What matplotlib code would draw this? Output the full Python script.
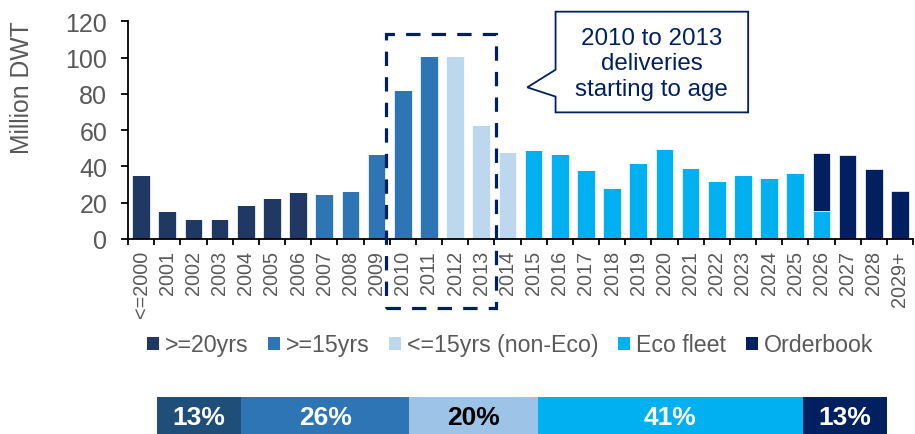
import numpy as np
import matplotlib
matplotlib.use("Agg")
import matplotlib.pyplot as plt
from matplotlib.patches import Patch, Polygon, Rectangle

plt.rcParams['font.family'] = ['Liberation Sans', 'DejaVu Sans']

# Fleet by delivery year (million DWT)
years = ["<=2000", "2001", "2002", "2003", "2004", "2005", "2006", "2007", "2008", "2009",
         "2010", "2011", "2012", "2013", "2014", "2015", "2016", "2017", "2018", "2019",
         "2020", "2021", "2022", "2023", "2024", "2025", "2026", "2027", "2028", "2029+"]
over20 = [35.1, 15.3, 10.8, 10.8, 18.8, 22.6, 25.7, 0, 0, 0,
          0, 0, 0, 0, 0, 0, 0, 0, 0, 0,
          0, 0, 0, 0, 0, 0, 0, 0, 0, 0]
over15 = [0, 0, 0, 0, 0, 0, 0, 25.0, 26.3, 46.9,
          82.2, 100.7, 0, 0, 0, 0, 0, 0, 0, 0,
          0, 0, 0, 0, 0, 0, 0, 0, 0, 0]
under15 = [0, 0, 0, 0, 0, 0, 0, 0, 0, 0,
           0, 0, 100.7, 63.0, 48.0, 0, 0, 0, 0, 0,
           0, 0, 0, 0, 0, 0, 0, 0, 0, 0]
eco = [0, 0, 0, 0, 0, 0, 0, 0, 0, 0,
       0, 0, 0, 0, 0, 49.1, 46.7, 38.2, 28.3, 41.9,
       49.4, 39.0, 31.8, 35.3, 33.6, 36.2, 15.3, 0, 0, 0]
orderbook = [0, 0, 0, 0, 0, 0, 0, 0, 0, 0,
             0, 0, 0, 0, 0, 0, 0, 0, 0, 0,
             0, 0, 0, 0, 0, 0, 31.9, 46.1, 38.4, 26.3]

series_names = [">=20yrs", ">=15yrs", "<=15yrs (non-Eco)", "Eco fleet", "Orderbook"]
series_colors = ["#203864", "#2E75B6", "#BDD7EE", "#00B0F0", "#002060"]

# Share of fleet (%)
share_pct = [13, 26, 20, 41, 13]
share_colors = ["#1F4E79", "#2E75B6", "#9DC3E6", "#00B0F0", "#002060"]
share_text = ["white", "white", "black", "white", "white"]

gray = "#595959"
navy = "#002060"

fig = plt.figure(figsize=(9.15, 4.35), dpi=100)
ax = fig.add_axes([128 / 915, 1 - 240 / 435, 785 / 915, 217.7 / 435])

x = np.arange(len(years))
bottom = np.zeros(len(years))
for vals, col in zip([over20, over15, under15, eco, orderbook], series_colors):
    vals = np.array(vals)
    ax.bar(x, vals, 0.68, bottom=bottom, color=col, edgecolor="white", linewidth=0.5, zorder=2)
    bottom += vals

ax.set_xlim(-0.5, len(years) - 0.5)
ax.set_ylim(0, 120)
ax.set_yticks(range(0, 121, 20))
ax.set_xticks(x)
ax.set_xticklabels(years, rotation=90, fontsize=14.3, color=gray)
ax.set_xticks(np.arange(-0.5, len(years), 1), minor=True)
ax.tick_params(axis="x", which="major", length=0, pad=8)
ax.tick_params(axis="x", which="minor", length=4, width=1.3, color="black")
ax.tick_params(axis="y", length=5, width=1.3, pad=10, labelsize=18, labelcolor=gray)
for s in ["top", "right"]:
    ax.spines[s].set_visible(False)
for s in ["left", "bottom"]:
    ax.spines[s].set_linewidth(1.3)

fig.text(22 / 915, 1 - 88 / 435, "Million DWT", rotation=90, ha="center", va="center",
         fontsize=17.8, color=gray)

# dashed frame around the 2010-2013 vintages
i0, i1 = years.index("2010"), years.index("2013")
frame = Rectangle((i0 - 0.65, -38), (i1 - i0) + 1.21, 151, fill=False, edgecolor=navy,
                  linewidth=2.3, linestyle=(0, (4.5, 3.5)), clip_on=False, zorder=5)
ax.add_patch(frame)

# callout box
bl, br, bt, bb = 15.84, 23.2, 125.3, 69.8
callout = Polygon([(bl, bb), (bl, 78.5), (14.76, 83.6), (bl, 93.3), (bl, bt), (br, bt), (br, bb)],
                  closed=True, facecolor="white", edgecolor=navy, linewidth=1.3,
                  clip_on=False, zorder=6)
ax.add_patch(callout)
ax.text((bl + br) / 2, (bt + bb) / 2 - 0.8, "2010 to 2013\ndeliveries\nstarting to age", ha="center",
        va="center", fontsize=17.4, color=navy, linespacing=1.22, zorder=7)

handles = [Patch(facecolor=c, edgecolor="none") for c in series_colors]
fig.legend(handles, series_names, loc="center", bbox_to_anchor=(510 / 915, 1 - 346 / 435),
           ncol=5, frameon=False, fontsize=16.7, labelcolor=gray, handlelength=0.52,
           handleheight=0.52, handletextpad=0.25, columnspacing=0.85, borderpad=0)

# share-of-fleet strip
ax2 = fig.add_axes([157.3 / 915, 0, 729.4 / 915, 37.3 / 435])
left = 0
for pct, col, tc in zip(share_pct, share_colors, share_text):
    ax2.barh(0, pct, 1, left=left, color=col, edgecolor="none")
    ax2.text(left + pct / 2, -0.04, f"{pct}%", ha="center", va="center", fontsize=19,
             fontweight="bold", color=tc)
    left += pct
ax2.set_xlim(0, sum(share_pct))
ax2.set_ylim(-0.5, 0.5)
ax2.axis("off")

fig.savefig("out.png", dpi=100)
